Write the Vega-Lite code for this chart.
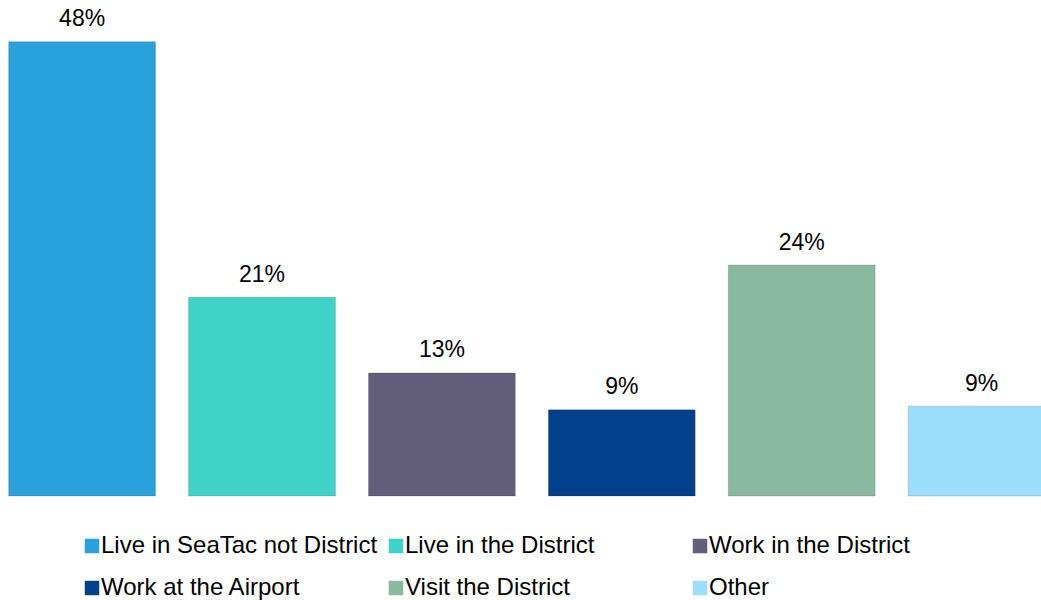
{
  "$schema": "https://vega.github.io/schema/vega-lite/v6.json",
  "width": 1041,
  "height": 600,
  "autosize": "none",
  "padding": 0,
  "background": "white",
  "config": {"view": {"stroke": null}, "font": "Liberation Sans"},
  "data": {
    "values": [
      {"category": "Live in SeaTac not District", "share": 0.48},
      {"category": "Live in the District", "share": 0.21},
      {"category": "Work in the District", "share": 0.13},
      {"category": "Work at the Airport", "share": 0.091},
      {"category": "Visit the District", "share": 0.244},
      {"category": "Other", "share": 0.0949}
    ]
  },
  "encoding": {
    "x": {
      "field": "category",
      "type": "nominal",
      "sort": null,
      "axis": null,
      "scale": {"range": [8.7, 1055], "paddingInner": 0.184, "paddingOuter": 0}
    },
    "y": {
      "field": "share",
      "type": "quantitative",
      "axis": null,
      "scale": {"domain": [0, 0.524], "range": [496, 0], "nice": false, "zero": true}
    }
  },
  "layer": [
    {
      "mark": {"type": "bar", "clip": true, "stroke": "#000000", "strokeOpacity": 0.15, "strokeWidth": 1},
      "encoding": {
        "color": {
          "field": "category",
          "type": "nominal",
          "sort": null,
          "scale": {
            "domain": ["Live in SeaTac not District", "Live in the District", "Work in the District", "Work at the Airport", "Visit the District", "Other"],
            "range": ["#29A2DC", "#3FD3C8", "#625E7B", "#02408B", "#89BAA1", "#9CDDFB"]
          },
          "legend": {
            "title": null,
            "orient": "none",
            "legendX": 80,
            "legendY": 534,
            "padding": 0,
            "direction": "horizontal",
            "columns": 3,
            "gridAlign": "all",
            "columnPadding": 6,
            "rowPadding": 18,
            "symbolType": "square",
            "symbolSize": 210,
            "symbolStrokeWidth": 0,
            "labelFont": "Liberation Sans",
            "labelFontSize": 24,
            "labelColor": "#000000",
            "labelOffset": -3,
            "labelLimit": 400
          }
        }
      }
    },
    {
      "mark": {"type": "text", "baseline": "alphabetic", "dy": -15.5, "fontSize": 23, "font": "Liberation Sans", "color": "#000000"},
      "encoding": {
        "text": {"field": "share", "type": "quantitative", "format": ".0%"}
      }
    }
  ]
}
